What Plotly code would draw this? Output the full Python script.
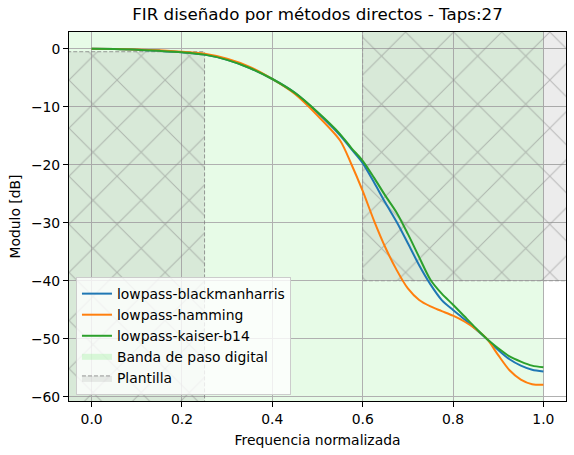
import plotly.graph_objects as go

# normalized frequency grid
FREQ = [0.0, 0.05, 0.1, 0.15, 0.2, 0.25, 0.3, 0.35, 0.4, 0.45, 0.5, 0.55,
        0.575, 0.6, 0.625, 0.65, 0.675, 0.7, 0.725, 0.75, 0.775, 0.8, 0.825,
        0.85, 0.875, 0.9, 0.925, 0.95, 0.975, 1.0]

# magnitude in dB for each window
BLACKMANHARRIS = [0.0, -0.05, -0.15, -0.35, -0.6, -1.0, -1.9, -3.3, -5.2, -7.6,
                  -11.0, -14.9, -17.3, -19.7, -23.0, -26.5, -29.8, -33.5, -37.3,
                  -40.6, -43.3, -45.0, -46.6, -48.3, -50.0, -51.9, -53.5, -54.6,
                  -55.3, -55.6]
HAMMING = [0.0, -0.03, -0.1, -0.25, -0.5, -0.85, -1.7, -3.1, -5.2, -7.8,
           -11.5, -15.8, -19.9, -24.5, -29.6, -34.2, -38.1, -41.3, -43.3,
           -44.4, -45.2, -46.0, -47.0, -48.3, -50.0, -52.8, -55.4, -57.0,
           -57.8, -57.9]
KAISER_B14 = [0.0, -0.05, -0.15, -0.35, -0.6, -1.0, -1.9, -3.3, -5.2, -7.6,
              -10.9, -14.7, -17.1, -19.3, -22.2, -25.3, -28.2, -31.9, -35.9,
              -39.8, -42.2, -44.1, -46.1, -48.1, -50.0, -51.6, -53.0, -53.9,
              -54.6, -54.9]

SERIES = {
    "lowpass-blackmanharris": BLACKMANHARRIS,
    "lowpass-hamming": HAMMING,
    "lowpass-kaiser-b14": KAISER_B14,
}
COLORS = ["#1f77b4", "#ff7f0e", "#2ca02c"]

# filter template
FPASS = 0.25
RIPPLE = -0.5
FSTOP = 0.6
ATTEN = -40
FBAND_END = 1.0

X_TICKS = [0.0, 0.2, 0.4, 0.6, 0.8, 1.0]
Y_TICKS = [0, -10, -20, -30, -40, -50, -60]

FONT = "DejaVu Sans"
GRAY_FILL = "rgba(128,128,128,0.15)"

fig = go.Figure()

# digital pass band, under the grid
fig.add_shape(type="rect", xref="x", yref="paper", x0=-0.05, x1=FBAND_END,
              y0=0, y1=1, fillcolor="rgba(144,238,144,0.22)", line_width=0,
              layer="below")

hatch = dict(shape="x", size=34, solidity=0.06, fgcolor="#858585",
             bgcolor=GRAY_FILL)

fig.add_trace(go.Scatter(
    x=[-0.2, FPASS, FPASS, -0.2, -0.2],
    y=[RIPPLE, RIPPLE, -100, -100, RIPPLE],
    fill="toself", mode="lines", fillcolor=GRAY_FILL, fillpattern=hatch,
    line=dict(color="rgba(128,128,128,0.8)", width=1, dash="4px,2px"),
    name="Plantilla", legendgroup="plantilla", legendrank=5,
    hoverinfo="skip",
))
fig.add_trace(go.Scatter(
    x=[FSTOP, 1.2, 1.2, FSTOP, FSTOP],
    y=[10, 10, ATTEN, ATTEN, 10],
    fill="toself", mode="lines", fillcolor=GRAY_FILL, fillpattern=hatch,
    line=dict(color="rgba(128,128,128,0.45)", width=1, dash="4px,2px"),
    name="Plantilla", legendgroup="plantilla", showlegend=False,
    hoverinfo="skip",
))

# legend entry for the band shape
fig.add_trace(go.Scatter(
    x=[None], y=[None], fill="toself", mode="none",
    fillcolor="rgba(144,238,144,0.3)", name="Banda de paso digital",
    legendrank=4,
))

for i, (name, vals) in enumerate(SERIES.items()):
    fig.add_trace(go.Scatter(
        x=FREQ, y=vals, mode="lines", name=name,
        line=dict(color=COLORS[i], width=2, shape="spline", smoothing=0.8),
        legendrank=i + 1,
    ))

axis_common = dict(
    showline=True, linecolor="black", linewidth=1, mirror=True,
    ticks="outside", ticklen=5, tickwidth=1, tickcolor="black",
    showgrid=True, gridcolor="#b0b0b0", gridwidth=1, zeroline=False,
    automargin=False,
    tickfont=dict(family=FONT, size=13.9, color="black"),
)

fig.update_xaxes(range=[-0.05, 1.05], tickvals=X_TICKS, tickformat=".1f",
                 title=dict(text="Frequencia normalizada", standoff=9,
                            font=dict(family=FONT, size=13.9, color="black")),
                 **axis_common)
fig.update_yaxes(range=[-60.7, 2.9], tickvals=Y_TICKS,
                 title=dict(text="Modulo [dB]", standoff=7,
                            font=dict(family=FONT, size=13.9, color="black")),
                 **axis_common)

fig.update_layout(
    width=574, height=455,
    margin=dict(l=69, r=8, t=32, b=54),
    paper_bgcolor="white", plot_bgcolor="white",
    font=dict(family=FONT, size=13.9, color="black"),
    title=dict(text="FIR diseñado por métodos directos - Taps:27",
               x=0.5, xref="paper", xanchor="center",
               y=1 - 14 / 455, yref="container", yanchor="middle",
               font=dict(family=FONT, size=16.7, color="black")),
    legend=dict(x=0.014, y=0.016, xanchor="left", yanchor="bottom",
                bgcolor="rgba(255,255,255,0.8)", bordercolor="#cccccc",
                borderwidth=1, font=dict(family=FONT, size=13.9),
                tracegroupgap=0, itemwidth=30),
    showlegend=True,
)

# the page's default body margin would shift the figure by 8px
fig.write_html("out.html", config={"displayModeBar": False},
               post_script="document.body.style.margin = '0';")
